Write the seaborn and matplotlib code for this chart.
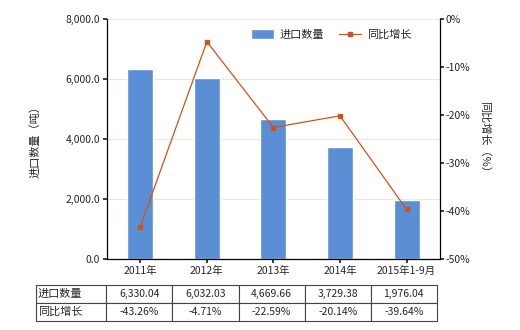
import matplotlib
matplotlib.use("Agg")
import matplotlib.pyplot as plt
import seaborn as sns
import pandas as pd

categories = ["2011年", "2012年", "2013年", "2014年", "2015年1-9月"]
import_qty = [6330.04, 6032.03, 4669.66, 3729.38, 1976.04]
yoy_growth = [-43.26, -4.71, -22.59, -20.14, -39.64]
qty_labels = ["6,330.04", "6,032.03", "4,669.66", "3,729.38", "1,976.04"]
growth_labels = ["-43.26%", "-4.71%", "-22.59%", "-20.14%", "-39.64%"]
series_names = ["进口数量", "同比增长"]

sns.set_theme(style="white")
plt.rcParams['font.family'] = ['Noto Sans CJK SC', 'DejaVu Sans']
plt.rcParams['axes.unicode_minus'] = False

bar_color = "#5A8FD5"
line_color = "#CF5318"
fs = 7.5

df = pd.DataFrame({"cat": categories, "qty": import_qty, "yoy": yoy_growth})

fig = plt.figure(figsize=(5.2, 3.3), dpi=100)
ax = fig.add_axes([0.2058, 0.215, 0.640, 0.727])

sns.barplot(data=df, x="cat", y="qty", color=bar_color, width=0.39, ax=ax,
            saturation=1, label=series_names[0])
ax.set_ylim(0, 8000)
ax.set_yticks([0, 2000, 4000, 6000, 8000])
ax.set_yticklabels([f"{v:,.1f}" for v in [0, 2000, 4000, 6000, 8000]], fontsize=fs)
ax.yaxis.grid(True, color="#E8E8E0", linewidth=0.8)
ax.set_axisbelow(True)
ax.set_xlabel("")
ax.set_ylabel("进口数量（吨）", fontsize=fs + 0.5, labelpad=18)
ax.tick_params(axis="x", labelsize=fs, length=3, pad=2, bottom=True)
ax.tick_params(axis="y", length=3, pad=2, left=True)
ax.set_xlim(-0.5, 4.5)
for s in ["top", "right"]:
    ax.spines[s].set_visible(False)
for s in ["left", "bottom"]:
    ax.spines[s].set_color("black")
    ax.spines[s].set_linewidth(0.9)

ax2 = ax.twinx()
ax2.plot(range(len(categories)), yoy_growth, color=line_color, linewidth=0.9,
         marker="s", markersize=3.5, label=series_names[1])
ax2.set_ylim(-50, 0)
ax2.set_yticks([0, -10, -20, -30, -40, -50])
ax2.set_yticklabels([f"{v}%" for v in [0, -10, -20, -30, -40, -50]], fontsize=fs)
ax2.set_ylabel("同比增长（%）", fontsize=fs + 0.5, rotation=-90, labelpad=14)
ax2.tick_params(axis="y", length=3, pad=1, right=True)
for s in ["top", "left", "bottom"]:
    ax2.spines[s].set_visible(False)
ax2.spines["right"].set_color("black")
ax2.spines["right"].set_linewidth(0.9)

h1, l1 = ax.get_legend_handles_labels()
h2, l2 = ax2.get_legend_handles_labels()
ax2.legend(h1 + h2, l1 + l2, loc="upper right", bbox_to_anchor=(0.945, 1.0),
           ncol=2, frameon=False, fontsize=8, handlelength=2.0, handleheight=1.0,
           handletextpad=0.5, columnspacing=1.4)
if ax.get_legend():
    ax.get_legend().remove()

# table
tab_ax = fig.add_axes([0.069, 0.027, 0.771, 0.109])
tab_ax.axis("off")
cells = [[series_names[0]] + qty_labels, [series_names[1]] + growth_labels]
total = 71 + 66.6 * 5
widths = [71 / total] + [66.6 / total] * 5
tbl = tab_ax.table(cellText=cells, colWidths=widths, bbox=[0, 0, 1, 1], cellLoc="center")
tbl.auto_set_font_size(False)
for (r, c), cell in tbl.get_celld().items():
    cell.set_fontsize(fs)
    cell.set_edgecolor("#444444")
    cell.set_linewidth(0.8)
    if c == 0:
        cell.set_fontsize(8)
        cell._loc = "left"
        cell.PAD = 0.03
        cell.get_text().set_horizontalalignment("left")

fig.savefig("out.png", dpi=100)
